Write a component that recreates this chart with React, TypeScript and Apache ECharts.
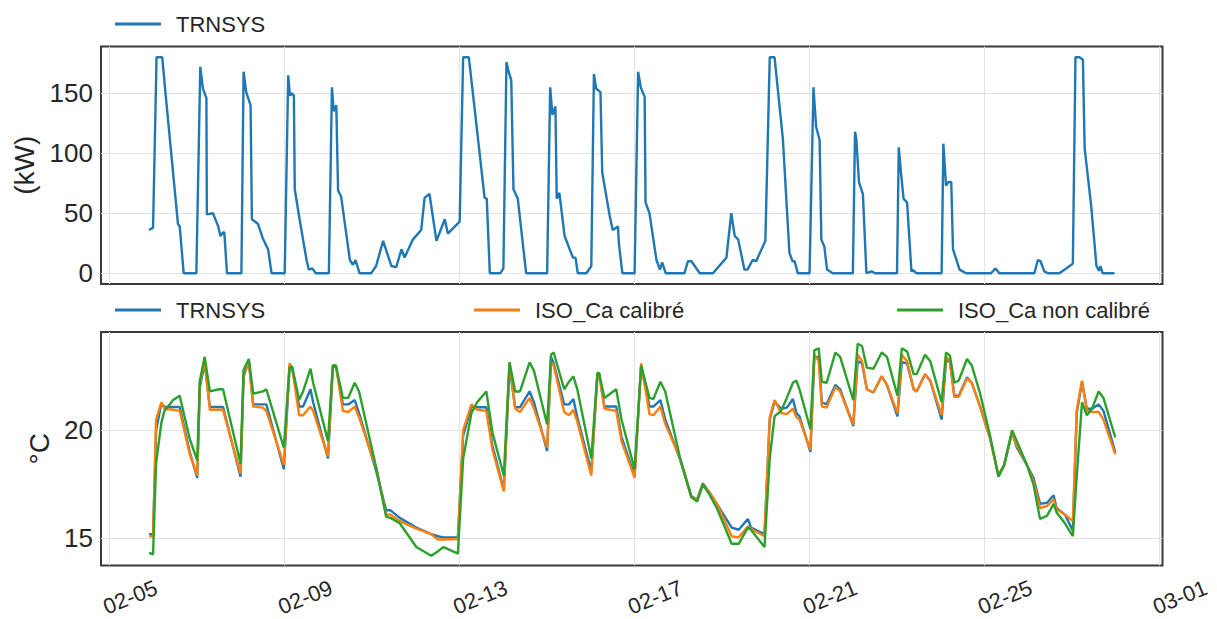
import React, { useEffect, useRef } from "react";
import * as echarts from "echarts";

// x values are days since 02-05 00:00
const xTickValues = [0, 4, 8, 12, 16, 20, 24];
const xTickLabels = ["02-05", "02-09", "02-13", "02-17", "02-21", "02-25", "03-01"];
const powerTicks = [0, 50, 100, 150];
const tempTicks = [15, 20];

const powerT = [
  0.9, 0.99, 1.07, 1.2, 1.28, 1.56, 1.6, 1.69, 1.98, 2.07, 2.13, 2.21, 2.22, 2.36, 2.48, 2.53, 2.59, 2.62, 2.68,
  3.01, 3.06, 3.12, 3.22, 3.25, 3.39, 3.5, 3.62, 3.7, 4.0, 4.08, 4.12, 4.16, 4.21, 4.23, 4.34, 4.5, 4.55, 4.63, 4.71,
  5.01, 5.08, 5.12, 5.18, 5.22, 5.29, 5.49, 5.56, 5.62, 5.71, 5.98, 6.09, 6.25, 6.44, 6.55, 6.67, 6.74, 6.93, 7.12,
  7.2, 7.31, 7.47, 7.66, 7.73, 8.0, 8.08, 8.21, 8.3, 8.57, 8.62, 8.69, 8.93, 9.0, 9.07, 9.12, 9.18, 9.23, 9.33, 9.52,
  10.0, 10.07, 10.12, 10.19, 10.22, 10.28, 10.4, 10.59, 10.65, 10.7, 10.9, 11.01, 11.07, 11.12, 11.22, 11.26, 11.43,
  11.5, 11.62, 11.64, 11.72, 12.0, 12.08, 12.14, 12.23, 12.25, 12.34, 12.5, 12.58, 12.63, 12.71, 13.14, 13.22, 13.3,
  13.49, 13.79, 14.1, 14.21, 14.29, 14.37, 14.51, 14.58, 14.7, 14.78, 14.99, 15.09, 15.2, 15.39, 15.54, 15.61, 15.66,
  15.73, 16.0, 16.09, 16.15, 16.23, 16.27, 16.34, 16.4, 16.53, 16.99, 17.04, 17.07, 17.13, 17.22, 17.3, 17.42, 17.5,
  18.0, 18.04, 18.09, 18.15, 18.23, 18.33, 18.37, 18.44, 19.02, 19.06, 19.12, 19.18, 19.24, 19.28, 19.43, 19.58,
  20.15, 20.25, 20.34, 21.14, 21.22, 21.28, 21.37, 21.45, 21.71, 21.87, 22.02, 22.08, 22.17, 22.25, 22.29, 22.44,
  22.56, 22.62, 22.65, 22.7, 22.97,
];
const powerKW = [
  36, 38, 180, 180, 148, 41, 39, 0, 0, 172, 154, 146, 49, 50, 39, 31, 34, 34, 0,
  0, 168, 151, 140, 45, 41, 29, 20, 0, 0, 165, 148, 150, 148, 70, 45, 11, 3, 4, 0,
  0, 155, 135, 140, 69, 64, 11, 7, 11, 0, 0, 6, 27, 6, 5, 20, 13, 28, 36,
  63, 66, 27, 45, 33, 43, 180, 180, 151, 63, 62, 0, 0, 4, 176, 168, 161, 70, 62, 0,
  0, 155, 132, 139, 62, 67, 31, 13, 13, 0, 0, 6, 166, 154, 151, 84, 48,
  36, 39, 25, 0, 0, 168, 155, 147, 59, 50, 11, 3, 9, 0, 0, 10, 10,
  0, 0, 13, 50, 31, 28, 3, 3, 11, 10, 27, 180, 180, 112, 17, 10, 10,
  0, 0, 155, 122, 111, 28, 22, 3, 0, 0, 118, 112, 76, 66, 0, 1.5, 0,
  0, 105, 84, 62, 59, 1.5, 2.5, 0, 0, 108, 73, 76, 76, 20, 3, 0,
  0, 4, 0, 0, 11, 10, 1.5, 0, 0, 4, 8, 180, 180, 178, 104, 56,
  6, 2, 6, 0, 0,
];

const tempT = [
  0.9, 0.99, 1.06, 1.18, 1.25, 1.45, 1.6, 1.83, 2.0, 2.06, 2.17, 2.29, 2.5, 2.59, 2.99, 3.06, 3.18, 3.28, 3.5, 3.58,
  3.98, 4.11, 4.17, 4.33, 4.42, 4.59, 4.65, 4.99, 5.1, 5.17, 5.33, 5.45, 5.6, 5.7, 6.1, 6.32, 6.42, 6.63, 7.01, 7.35,
  7.5, 7.63, 7.96, 8.08, 8.27, 8.4, 8.61, 8.75, 9.01, 9.14, 9.27, 9.38, 9.6, 9.7, 10.0, 10.09, 10.15, 10.39, 10.5,
  10.6, 10.69, 11.01, 11.15, 11.19, 11.31, 11.58, 11.7, 12.0, 12.15, 12.34, 12.43, 12.59, 12.7, 13.03, 13.3, 13.43,
  13.56, 13.72, 13.88, 14.22, 14.38, 14.59, 14.66, 14.97, 15.09, 15.2, 15.35, 15.48, 15.62, 15.7, 15.77, 16.02,
  16.11, 16.21, 16.28, 16.39, 16.59, 16.7, 17.0, 17.1, 17.2, 17.31, 17.46, 17.65, 17.77, 18.01, 18.11, 18.23, 18.38,
  18.45, 18.64, 18.76, 19.02, 19.12, 19.21, 19.31, 19.41, 19.6, 19.71, 19.9, 20.13, 20.32, 20.45, 20.63, 20.74,
  20.97, 21.12, 21.27, 21.43, 21.58, 21.65, 21.84, 22.02, 22.11, 22.23, 22.34, 22.46, 22.61, 22.72, 22.99,
];
const tempTRNSYS = [
  15.2, 15.2, 20.0, 21.26, 21.08, 21.08, 21.08, 19.0, 17.8, 22.0, 23.1, 21.08, 21.08, 21.08, 17.85, 22.5, 23.2, 21.2, 21.2, 21.2,
  18.2, 22.9, 22.9, 21.1, 21.1, 21.9, 21.3, 18.7, 22.9, 23.0, 21.2, 21.2, 21.4, 20.8, 18.05, 16.3, 16.3, 15.95, 15.5, 15.2,
  15.1, 15.05, 15.05, 19.75, 21.1, 21.07, 21.07, 19.3, 17.25, 22.9, 21.07, 21.07, 21.8, 21.3, 19.05, 23.4, 23.1, 21.2, 21.2,
  21.45, 20.6, 18.1, 22.6, 22.6, 21.1, 21.1, 19.7, 17.9, 23.0, 21.1, 21.1, 21.4, 20.5, 18.7, 16.95, 16.8,
  17.55, 17.1, 16.6, 15.5, 15.4, 15.9, 15.5, 15.2, 20.5, 21.33, 21.0, 21.05, 21.45, 20.8, 20.65, 19.0,
  23.4, 23.4, 21.3, 21.2, 22.1, 21.9, 20.2, 23.2, 23.1, 21.9, 21.75, 22.5, 22.1, 20.65, 23.15, 23.1, 21.9,
  21.8, 22.6, 22.3, 20.5, 23.2, 23.2, 21.6, 21.6, 22.45, 22.2, 21.1, 19.6, 17.9, 18.4, 19.9, 19.2,
  18.4, 17.8, 16.6, 16.65, 17.0, 16.4, 16.1, 15.35, 20.8, 22.25, 21.0, 21.0, 21.2, 20.9, 19.0,
];
const tempCalibre = [
  15.1, 15.1, 20.5, 21.3, 21.0, 20.95, 20.9, 18.9, 17.9, 22.2, 23.2, 20.95, 20.95, 20.95, 18.0, 22.6, 23.2, 21.1, 21.05, 20.9,
  18.4, 23.1, 22.9, 20.7, 20.7, 21.1, 20.9, 18.8, 23.0, 23.0, 20.9, 20.85, 21.1, 20.6, 18.2, 16.1, 16.1, 15.8, 15.45, 15.2,
  14.95, 14.95, 14.97, 20.0, 21.2, 20.95, 20.9, 19.1, 17.17, 23.15, 21.0, 20.85, 21.5, 21.0, 19.2, 23.15, 23.0, 20.85, 20.7,
  20.95, 20.4, 17.9, 22.6, 22.6, 21.0, 20.9, 19.5, 17.8, 23.1, 20.75, 20.7, 21.1, 20.3, 18.75, 16.9, 16.8,
  17.5, 17.1, 16.6, 15.1, 15.05, 15.55, 15.45, 15.1, 20.6, 21.4, 20.8, 20.75, 21.0, 20.6, 20.5, 19.1,
  23.5, 23.2, 21.1, 21.05, 22.0, 21.8, 20.27, 23.5, 23.2, 21.9, 21.75, 22.5, 22.1, 20.8, 23.5, 23.2, 21.9,
  21.8, 22.6, 22.3, 20.7, 23.4, 23.2, 21.55, 21.55, 22.4, 22.2, 21.1, 19.6, 17.9, 18.4, 19.9, 19.3,
  18.4, 17.65, 16.4, 16.5, 16.8, 16.35, 16.1, 15.8, 20.95, 22.3, 20.9, 20.85, 20.85, 20.5, 18.9,
];
const tempNonCalibre = [
  14.33, 14.26, 18.5, 20.35, 20.9, 21.4, 21.6, 19.6, 18.6, 22.3, 23.4, 21.8, 21.9, 21.9, 18.45, 22.8, 23.3, 21.7, 21.8, 21.9,
  19.2, 22.9, 22.95, 21.4, 21.8, 22.85, 22.2, 19.5, 23.0, 23.0, 21.5, 21.5, 22.2, 21.8, 18.2, 16.0, 15.95, 15.7, 14.6, 14.2,
  14.4, 14.6, 14.3, 18.7, 20.8, 21.3, 21.8, 19.9, 17.9, 23.15, 21.8, 21.8, 23.15, 22.75, 20.27, 23.5, 23.6, 21.9, 22.25,
  22.5, 21.9, 18.7, 22.65, 22.65, 21.5, 21.9, 20.5, 18.2, 23.0, 21.5, 21.45, 22.25, 21.8, 18.8, 16.9, 16.7,
  17.5, 17.0, 16.4, 14.75, 14.75, 15.5, 15.4, 14.6, 18.7, 20.65, 20.9, 21.5, 22.2, 22.3, 21.9, 20.05,
  23.7, 23.8, 22.25, 22.2, 23.6, 23.4, 21.4, 24.0, 23.9, 22.9, 22.85, 23.6, 23.4, 21.6, 23.8, 23.65, 22.6,
  22.6, 23.5, 23.2, 21.3, 23.6, 23.45, 22.2, 22.3, 23.3, 23.0, 21.7, 19.74, 17.85, 18.4, 20.0, 19.5,
  18.4, 17.5, 15.9, 16.05, 16.6, 16.2, 15.7, 15.1, 17.9, 21.3, 20.7, 21.0, 21.8, 21.5, 19.67,
];

const zip = (xs: number[], ys: number[]) => xs.map((x, i) => [x, ys[i]]);

const FONT = "Liberation Sans, Arial, sans-serif";
const TXT = "#262626";
const C_BLUE = "#1f77b4";
const C_ORANGE = "#ff7f0e";
const C_GREEN = "#2ca02c";

export default function App() {
  const ref = useRef<HTMLDivElement>(null);
  useEffect(() => {
    if (!ref.current) return;
    const chart = echarts.init(ref.current, undefined, { renderer: "svg" });
    const xBase = (gridIndex: number, showLabels: boolean) => ({
      type: "value",
      gridIndex,
      min: -0.2,
      max: 24.07,
      axisLine: { show: false },
      axisTick: { show: false, customValues: xTickValues },
      splitLine: { show: true, lineStyle: { color: "#e3e3e3", width: 1 } },
      axisLabel: {
        show: showLabels,
        customValues: xTickValues,
        formatter: (v: number) => xTickLabels[xTickValues.indexOf(Math.round(v))] ?? "",
        rotate: 22,
        align: "left",
        verticalAlign: "middle",
        margin: 40,
        fontSize: 22,
        fontFamily: FONT,
        color: TXT,
        padding: [0, 0, 0, -6],
      },
    });
    const lineSeries = (name: string, data: number[][], color: string, idx: number) => ({
      type: "line",
      name,
      data,
      xAxisIndex: idx,
      yAxisIndex: idx,
      showSymbol: false,
      symbol: "none",
      color,
      lineStyle: { width: 2.4, color },
      clip: true,
    });
    const legendBase = {
      orient: "horizontal",
      icon: "rect",
      itemWidth: 46,
      itemHeight: 3,
      textStyle: { fontSize: 22, fontFamily: FONT, color: TXT, padding: [0, 0, 0, 10] },
      selectedMode: false,
    };
    chart.setOption({
      animation: false,
      backgroundColor: "#ffffff",
      grid: [
        { left: 101, right: 54.5, top: 46.5, height: 237.5, show: true, borderColor: "#3a3a3a", borderWidth: 2, backgroundColor: "#ffffff" },
        { left: 101, right: 54.5, top: 332, height: 236, show: true, borderColor: "#3a3a3a", borderWidth: 2, backgroundColor: "#ffffff" },
      ],
      legend: [
        { ...legendBase, left: 110, top: 8, data: ["TRNSYS"] },
        { ...legendBase, left: 110, top: 294, data: ["TRNSYS"] },
        { ...legendBase, left: 469, top: 294, data: ["ISO_Ca calibré"] },
        { ...legendBase, left: 892, top: 294, data: ["ISO_Ca non calibré"] },
      ],
      xAxis: [xBase(0, false), xBase(1, true)],
      yAxis: [
        {
          type: "value",
          gridIndex: 0,
          min: -9,
          max: 189,
          name: "(kW)",
          nameLocation: "middle",
          nameGap: 60,
          nameTextStyle: { fontSize: 28, fontFamily: FONT, color: TXT },
          axisLine: { show: false },
          axisTick: { show: false, customValues: powerTicks },
          splitLine: { show: true, lineStyle: { color: "#e3e3e3", width: 1 } },
          axisLabel: { customValues: powerTicks, fontSize: 26, fontFamily: FONT, color: TXT, margin: 8 },
        },
        {
          type: "value",
          gridIndex: 1,
          min: 13.75,
          max: 24.55,
          name: "°C",
          nameLocation: "middle",
          nameGap: 46,
          nameTextStyle: { fontSize: 28, fontFamily: FONT, color: TXT },
          axisLine: { show: false },
          axisTick: { show: false, customValues: tempTicks },
          splitLine: { show: true, lineStyle: { color: "#e3e3e3", width: 1 } },
          axisLabel: { customValues: tempTicks, fontSize: 26, fontFamily: FONT, color: TXT, margin: 8 },
        },
      ],
      series: [
        lineSeries("TRNSYS", zip(powerT, powerKW), C_BLUE, 0),
        lineSeries("TRNSYS", zip(tempT, tempTRNSYS), C_BLUE, 1),
        lineSeries("ISO_Ca calibré", zip(tempT, tempCalibre), C_ORANGE, 1),
        lineSeries("ISO_Ca non calibré", zip(tempT, tempNonCalibre), C_GREEN, 1),
      ],
    });
    return () => chart.dispose();
  }, []);
  return (
    <div
      ref={ref}
      style={{ position: "fixed", left: 0, top: 0, width: 1217, height: 619, background: "#fff" }}
    />
  );
}
